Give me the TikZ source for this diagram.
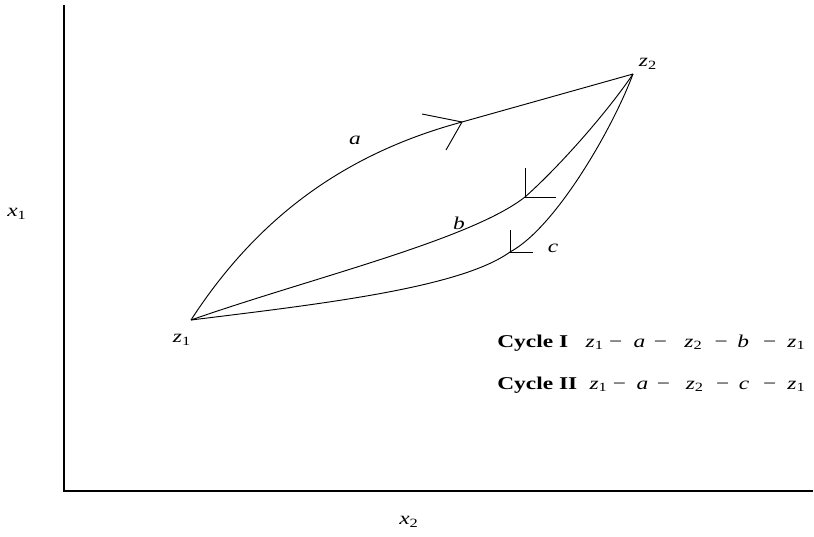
\documentclass[tikz,border=0pt]{standalone}
\usepackage{fontspec}
\setmainfont{Liberation Serif}
\usepackage{tikz}
\usetikzlibrary{positioning,calc}
\newcommand{\sv}[2]{\textit{#1}\textsubscript{#2}}
\newcommand{\mi}{\hspace{3pt}−}

\begin{document}
\begin{tikzpicture}[
  x=0.75pt, y=-0.75pt,
  curve/.style={line width=0.7pt},
  axis/.style={line width=0.9pt},
  tick/.style={line width=0.7pt},
  lbl/.style={font=\fontsize{13.5}{15}\selectfont, inner sep=1pt, xscale=1.3, transform shape},
  cyc/.style={font=\fontsize{13.5}{15}\selectfont, inner sep=0pt, xscale=1.3, transform shape}
]
\useasboundingbox (0,0) rectangle (814,536);
% axes
\coordinate (origin) at (64,491);
\coordinate (ytop) at (64,5);
\coordinate (xend) at (813,491);
\draw[axis] (ytop) -- (origin) -- (xend);
\node[lbl] (x1) at (17,214) {\sv{x}{1}};
\node[lbl] (x2) at (409,522) {\sv{x}{2}};
% end points and tick points
\coordinate (z1) at (191,320);
\coordinate (z2) at (633,74);
\coordinate (ta) at (462,122);
\coordinate (tb) at (525,197);
\coordinate (tc) at (510,252);
% paths a, b, c
\draw[curve] (z1) .. controls (261,212) and (351,152) .. (ta) -- (z2);
\draw[curve] (z1) .. controls (311,278) and (470,240) .. (tb)
  .. controls (561,165) and (608,111) .. (z2);
\draw[curve] (z1) .. controls (321,304) and (460,288) .. (tc)
  .. controls (555,228) and (612,130) .. (z2);
% direction marks
\draw[tick] (ta) -- ++(-40,-8);
\draw[tick] (ta) -- ++(-16,28);
\draw[tick] (tb) -- ++(0,-29) (tb) -- ++(31,0);
\draw[tick] (tc) -- ++(0,-22) (tc) -- ++(23,0);
% labels
\node[lbl] (la) at (355,140) {\textit{a}};
\node[lbl] (lb) at (459,223) {\textit{b}};
\node[lbl] (lc) at (553,248) {\textit{c}};
\node[lbl] (lz1) at (182,340) {\sv{z}{1}};
\node[lbl] (lz2) at (648,64) {\sv{z}{2}};
% cycles
\node[cyc, anchor=base west] (cycI) at (497,347) {\textbf{Cycle I}};
\node[cyc, anchor=base east] (pathI) at (806,347) {\sv{z}{1}\mi\hspace{6.5pt}\textit{a}\hspace{5pt}−\hspace{10pt}\sv{z}{2}\hspace{7pt}−\hspace{5.5pt}\textit{b}\hspace{8pt}−\hspace{6.5pt}\sv{z}{1}};
\node[cyc, anchor=base west] (cycII) at (497,389) {\textbf{Cycle II}};
\node[cyc, anchor=base east] (pathII) at (806,389) {\sv{z}{1}\mi\hspace{6pt}\textit{a}\hspace{5pt}−\hspace{9pt}\sv{z}{2}\hspace{7pt}−\hspace{5.5pt}\textit{c}\hspace{8pt}−\hspace{6.5pt}\sv{z}{1}};
\end{tikzpicture}
\end{document}
